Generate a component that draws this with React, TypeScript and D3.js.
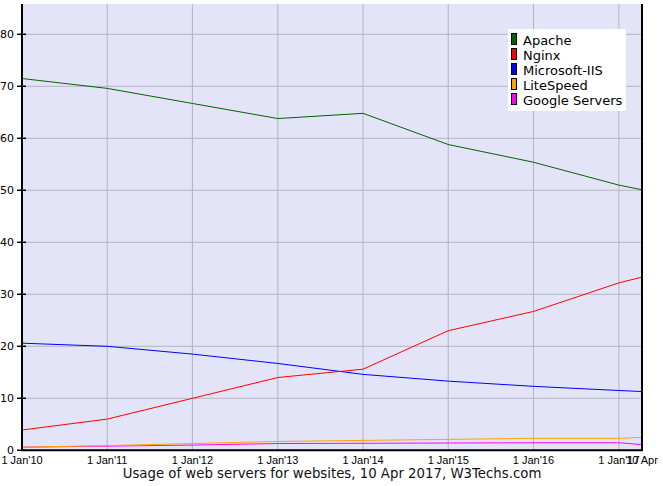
import React from "react";
import * as d3 from "d3";

const width = 663;
const height = 486;

// sample dates: 1 Jan of every year, then the survey date
const dates = [
  "2010-01-01", "2011-01-01", "2012-01-01", "2013-01-01", "2014-01-01",
  "2015-01-01", "2016-01-01", "2017-01-01", "2017-04-10",
];

const seriesNames = ["Apache", "Nginx", "Microsoft-IIS", "LiteSpeed", "Google Servers"];
const seriesColors = ["#006400", "#ff0000", "#0000ff", "#ffa500", "#ff00ff"];

const apache = [71.5, 69.6, 66.7, 63.8, 64.8, 58.8, 55.4, 51.0, 50.1];
const nginx = [3.9, 6.0, 10.0, 14.0, 15.6, 23.0, 26.7, 32.2, 33.3];
const iis = [20.6, 20.0, 18.5, 16.7, 14.6, 13.3, 12.3, 11.5, 11.3];
const litespeed = [0.6, 0.9, 1.3, 1.7, 1.9, 2.1, 2.3, 2.3, 2.5];
const google = [0.6, 0.8, 1.0, 1.3, 1.35, 1.4, 1.45, 1.45, 1.1];

const seriesValues = [apache, nginx, iis, litespeed, google];

const yTicks = [0, 10, 20, 30, 40, 50, 60, 70, 80];
const xTickLabels = ["1 Jan'10", "1 Jan'11", "1 Jan'12", "1 Jan'13", "1 Jan'14", "1 Jan'15", "1 Jan'16", "1 Jan'17", "10 Apr"];

const title = "Usage of web servers for websites, 10 Apr 2017, W3Techs.com";

const left = 22;
const right = 642;
const top = 4;
const bottom = 450.3;

export default function App() {
  const parse = d3.utcParse("%Y-%m-%d");
  const xs = dates.map((d) => parse(d) as Date);

  const x = d3.scaleUtc().domain([xs[0], xs[xs.length - 1]]).range([left, right]);
  const y = d3.scaleLinear().domain([0, 10]).range([bottom, bottom - 52]);

  const line = d3
    .line<number>()
    .x((_, i) => x(xs[i]))
    .y((v) => y(v));

  return (
    <svg
      width={width}
      height={height}
      style={{ position: "absolute", left: 0, top: 0, background: "#fff" }}
    >
      <rect x={left} y={top} width={right - left} height={bottom - top} fill="#e4e4f8" />

      {/* grid */}
      {yTicks.slice(1).map((t) => (
        <line key={"gy" + t} x1={left} x2={right} y1={y(t)} y2={y(t)} stroke="#b4b4bc" strokeWidth={1} />
      ))}
      {xs.slice(1, 8).map((d, i) => (
        <line key={"gx" + i} x1={x(d)} x2={x(d)} y1={top} y2={bottom} stroke="#b4b4bc" strokeWidth={1} />
      ))}

      {/* series */}
      {seriesValues
        .map((vals, i) => (
          <path key={seriesNames[i]} d={line(vals) ?? ""} fill="none" stroke={seriesColors[i]} strokeWidth={1} />
        ))
        .reverse()}

      {/* axes */}
      <line x1={left} x2={left} y1={top} y2={bottom} stroke="#000" strokeWidth={2} />
      <line x1={left - 1} x2={right + 1} y1={bottom} y2={bottom} stroke="#000" strokeWidth={2} />
      <line x1={right} x2={right} y1={top} y2={bottom} stroke="#000" strokeWidth={2} />

      {yTicks.map((t) => (
        <g key={"ty" + t}>
          <line x1={17} x2={26} y1={y(t)} y2={y(t)} stroke="#000" strokeWidth={1.5} />
          <text
            x={14}
            y={y(t) + 4}
            textAnchor="end"
            fontFamily="DejaVu Sans, sans-serif"
            fontSize={11}
            fill="#000"
          >
            {t}
          </text>
        </g>
      ))}

      {xs.map((d, i) => (
        <text
          key={"tx" + i}
          x={x(d)}
          y={464}
          textAnchor="middle"
          fontFamily="Liberation Sans, Arial, sans-serif"
          fontSize={11}
          fill="#000"
        >
          {xTickLabels[i]}
        </text>
      ))}

      {/* legend */}
      <rect x={508} y={29} width={118} height={82} fill="#fff" />
      {seriesNames.map((n, i) => (
        <g key={"lg" + n}>
          <rect x={511.5} y={33.5 + i * 15} width={5} height={11} fill={seriesColors[i]} stroke="#000" strokeWidth={1} />
          <text x={523} y={44.5 + i * 15} fontFamily="DejaVu Sans, sans-serif" fontSize={13} fill="#000">
            {n}
          </text>
        </g>
      ))}

      <text
        x={332}
        y={478}
        textAnchor="middle"
        fontFamily="DejaVu Sans, sans-serif"
        fontSize={13.3}
        fill="#111"
      >
        {title}
      </text>
    </svg>
  );
}
